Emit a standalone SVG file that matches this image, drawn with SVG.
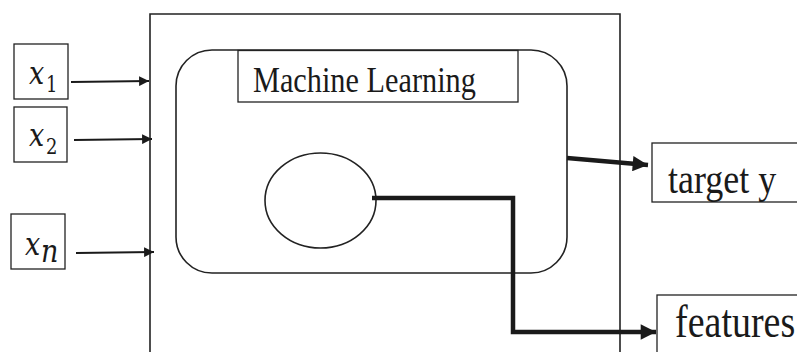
<svg xmlns="http://www.w3.org/2000/svg" width="797" height="352" viewBox="0 0 797 352">
<defs>
<style>
.box{fill:#fff;stroke:#222;stroke-width:1.3}
.thin{fill:none;stroke:#222;stroke-width:1.6}
.conn{fill:none;stroke:#1a1a1a;stroke-width:2.2}
.thick{fill:none;stroke:#1a1a1a;stroke-width:4.5}
.lbl{font-family:"Liberation Serif","Times New Roman",serif;fill:#1a1a1a}
.math{font-family:"DejaVu Serif","Liberation Serif",serif;font-style:italic;fill:#1a1a1a;font-size:27px}
.sub{font-family:"DejaVu Serif","Liberation Serif",serif;fill:#1a1a1a;font-size:18px}
</style>
<marker id="ah" viewBox="0 0 10 10" refX="10" refY="5" markerWidth="4.5" markerHeight="4.5" orient="auto" markerUnits="strokeWidth"><path d="M0,0 L10,5 L0,10 z" fill="#1a1a1a"/></marker>
<marker id="ahb" viewBox="0 0 10 10" refX="10" refY="5" markerWidth="3.6" markerHeight="3.4" orient="auto" markerUnits="strokeWidth"><path d="M0,0 L10,5 L0,10 z" fill="#1a1a1a"/></marker>
</defs>
<rect width="797" height="352" fill="#fff"/>
<g id="system"><path class="thin" d="M150,356 V14 H620 V356"/></g>
<g id="ml"><rect class="thin" x="176" y="50" width="391" height="223" rx="36" ry="36"/></g>
<g id="ml-label"><rect class="box" x="238" y="50.5" width="280" height="51.5"/><text class="lbl" transform="translate(253,92) scale(1,1.2)" font-size="30.3">Machine Learning</text></g>
<g id="hidden"><ellipse class="thin" cx="320.5" cy="200.5" rx="55.5" ry="47.5"/></g>
<g id="x1"><rect class="box" x="14" y="44" width="54" height="55"/><text class="math" transform="translate(29,84) scale(1,1.2)">x</text><text class="sub" transform="translate(46,92) scale(1,1.2)">1</text></g>
<g id="x2"><rect class="box" x="14" y="107" width="53" height="55"/><text class="math" transform="translate(29,146) scale(1,1.2)">x</text><text class="sub" transform="translate(46,154) scale(1,1.2)">2</text></g>
<g id="xn"><rect class="box" x="11" y="214" width="54" height="55"/><text class="math" transform="translate(25,255) scale(1,1.2)">x</text><text class="math" transform="translate(41,262) scale(1,1.2)" font-size="23">n</text></g>
<g id="target"><rect class="box" x="652" y="143" width="150" height="59"/><text class="lbl" transform="translate(668,193) scale(1,1.2)" font-size="36">target y</text></g>
<g id="features"><rect class="box" x="657" y="295" width="150" height="62"/><text class="lbl" transform="translate(675,337) scale(1,1.2)" font-size="38">features</text></g>
<g id="connectors">
<line class="conn" x1="71" y1="82" x2="149" y2="81" marker-end="url(#ah)"/>
<line class="conn" x1="74" y1="140" x2="152" y2="139" marker-end="url(#ah)"/>
<line class="conn" x1="76" y1="253" x2="154" y2="252" marker-end="url(#ah)"/>
<line class="thick" x1="567" y1="158" x2="648" y2="165" marker-end="url(#ahb)"/>
<path class="thick" d="M372,198 H513 V332 H656" marker-end="url(#ahb)"/>
</g>
</svg>
